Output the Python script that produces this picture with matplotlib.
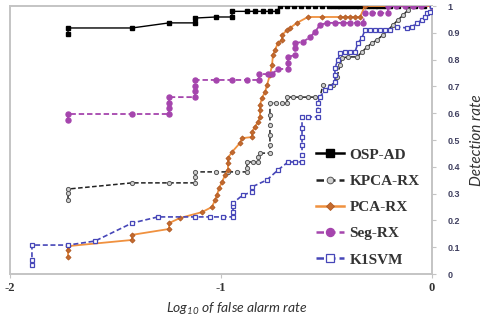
import matplotlib
matplotlib.use('Agg')
import matplotlib.pyplot as plt
from matplotlib.font_manager import FontProperties

plt.rcParams['mathtext.fontset'] = 'custom'
plt.rcParams['mathtext.rm'] = 'Lato:italic'
plt.rcParams['mathtext.it'] = 'Lato:italic'

# ---------------- data (log10 false alarm rate, detection rate) ----------------
osp_x = [-1.725, -1.725, -1.422, -1.246, -1.123, -1.123, -1.024, -0.948, -0.948,
         -0.877, -0.839, -0.801, -0.768, -0.735, -0.720, -0.687, -0.654, -0.621,
         -0.588, -0.555, -0.522, -0.489, -0.470, -0.452, -0.434, -0.416, -0.398,
         -0.380, -0.362, -0.344, -0.326, -0.308, -0.290, -0.272, -0.254, -0.236,
         -0.218, -0.200, -0.160, -0.120, -0.080, -0.040, 0.0]
osp_y = [0.896, 0.918, 0.918, 0.937, 0.937, 0.955, 0.959, 0.959, 0.980,
         0.980, 0.980, 0.980, 0.980, 0.980, 1.0, 1.0, 1.0, 1.0,
         1.0, 1.0, 1.0, 1.0, 1.0, 1.0, 1.0, 1.0, 1.0,
         1.0, 1.0, 1.0, 1.0, 1.0, 1.0, 1.0, 1.0, 1.0,
         1.0, 1.0, 1.0, 1.0, 1.0, 1.0, 1.0]

kpca_x = [-1.725, -1.725, -1.725, -1.422, -1.246, -1.123, -1.123, -1.123, -1.024,
          -0.967, -0.924, -0.877, -0.877, -0.877, -0.848, -0.825, -0.825, -0.815,
          -0.768, -0.768, -0.768, -0.768, -0.768, -0.768, -0.739, -0.711, -0.687,
          -0.687, -0.659, -0.626, -0.588, -0.555, -0.531, -0.517, -0.469, -0.450,
          -0.436, -0.427, -0.398, -0.355, -0.332, -0.308, -0.284, -0.261, -0.232,
          -0.209, -0.185, -0.161, -0.137, -0.114, -0.095, 0.0]
kpca_y = [0.276, 0.302, 0.317, 0.340, 0.340, 0.340, 0.362, 0.381, 0.381,
          0.381, 0.381, 0.381, 0.396, 0.418, 0.418, 0.418, 0.437, 0.451,
          0.451, 0.481, 0.519, 0.556, 0.593, 0.638, 0.638, 0.638, 0.638,
          0.660, 0.660, 0.660, 0.660, 0.660, 0.660, 0.705, 0.705, 0.735,
          0.780, 0.806, 0.810, 0.810, 0.828, 0.847, 0.862, 0.873, 0.892,
          0.910, 0.929, 0.948, 0.966, 0.985, 1.0, 1.0]

pca_x = [-1.725, -1.725, -1.725, -1.422, -1.422, -1.246, -1.246, -1.194, -1.090,
         -1.043, -1.028, -1.019, -1.009, -0.995, -0.981, -0.967, -0.967, -0.967,
         -0.948, -0.910, -0.900, -0.853, -0.853, -0.839, -0.825, -0.815, -0.815,
         -0.815, -0.806, -0.791, -0.782, -0.768, -0.758, -0.754, -0.744, -0.730,
         -0.711, -0.711, -0.687, -0.673, -0.640, -0.588, -0.521, -0.436, -0.412,
         -0.389, -0.365, -0.341, -0.318, 0.0]
pca_y = [0.063, 0.090, 0.104, 0.127, 0.146, 0.168, 0.190, 0.209, 0.231,
         0.250, 0.276, 0.295, 0.321, 0.343, 0.369, 0.388, 0.414, 0.433,
         0.455, 0.489, 0.507, 0.511, 0.530, 0.549, 0.567, 0.586, 0.612,
         0.631, 0.657, 0.679, 0.705, 0.743, 0.780, 0.817, 0.836, 0.862,
         0.873, 0.892, 0.910, 0.918, 0.937, 0.959, 0.959, 0.959, 0.959,
         0.959, 0.959, 0.959, 1.0, 1.0]

seg_x = [-1.725, -1.725, -1.422, -1.246, -1.246, -1.246, -1.246, -1.123, -1.123,
         -1.123, -1.123, -1.024, -0.948, -0.877, -0.820, -0.820, -0.777, -0.758,
         -0.730, -0.682, -0.682, -0.682, -0.649, -0.649, -0.649, -0.611, -0.578,
         -0.555, -0.531, -0.498, -0.460, -0.422, -0.389, -0.355, -0.327, -0.318,
         -0.284, -0.246, -0.209, -0.209, -0.170, -0.130, -0.090, -0.050, 0.0]
seg_y = [0.575, 0.597, 0.597, 0.597, 0.619, 0.638, 0.660, 0.660, 0.683,
         0.701, 0.724, 0.724, 0.724, 0.724, 0.724, 0.746, 0.746, 0.746,
         0.765, 0.765, 0.787, 0.810, 0.817, 0.843, 0.862, 0.866, 0.884,
         0.903, 0.929, 0.937, 0.937, 0.937, 0.937, 0.937, 0.937, 0.974,
         0.974, 0.974, 0.974, 1.0, 1.0, 1.0, 1.0, 1.0, 1.0]

svm_x = [-1.896, -1.896, -1.896, -1.725, -1.597, -1.422, -1.299, -1.123, -1.052,
         -0.991, -0.943, -0.943, -0.943, -0.943, -0.896, -0.853, -0.853, -0.782,
         -0.730, -0.682, -0.649, -0.616, -0.616, -0.616, -0.616, -0.616, -0.616,
         -0.588, -0.540, -0.540, -0.540, -0.531, -0.507, -0.483, -0.460, -0.460,
         -0.460, -0.446, -0.436, -0.412, -0.389, -0.365, -0.351, -0.332, -0.318,
         -0.294, -0.270, -0.246, -0.223, -0.199, -0.166, -0.118, -0.095, -0.071,
         -0.047, -0.033, -0.024, -0.009, 0.0]
svm_y = [0.034, 0.052, 0.108, 0.108, 0.123, 0.190, 0.213, 0.213, 0.213,
         0.213, 0.213, 0.231, 0.254, 0.265, 0.295, 0.306, 0.325, 0.351,
         0.388, 0.418, 0.418, 0.418, 0.444, 0.481, 0.511, 0.545, 0.586,
         0.586, 0.586, 0.612, 0.638, 0.660, 0.687, 0.698, 0.716, 0.743,
         0.769, 0.799, 0.825, 0.828, 0.828, 0.828, 0.862, 0.881, 0.910,
         0.910, 0.910, 0.910, 0.910, 0.910, 0.922, 0.918, 0.922, 0.937,
         0.948, 0.959, 0.974, 0.978, 1.0]

x_ticks = [-2, -1, 0]
x_tick_labels = ['-2', '-1', '0']
y_ticks = [0, 0.1, 0.2, 0.3, 0.4, 0.5, 0.6, 0.7, 0.8, 0.9, 1]
y_tick_labels = ['0', '0.1', '0.2', '0.3', '0.4', '0.5', '0.6', '0.7', '0.8', '0.9', '1']

# ---------------- figure ----------------
fig = plt.figure(figsize=(4.86, 3.23), dpi=100)
ax = fig.add_axes([10 / 486, 49 / 323, 422 / 486, 268 / 323])

ax.plot(osp_x, osp_y, color='black', lw=1.0, marker='s', ms=3.2,
        mfc='black', mec='black', label='OSP-AD', zorder=3)
ax.plot(kpca_x, kpca_y, color='#222222', lw=1.1, ls=(0, (3, 1.6)), marker='o', ms=3.0,
        mfc='#d0d0d0', mec='#555555', mew=0.7, label='KPCA-RX', zorder=4)
ax.plot(pca_x, pca_y, color='#f0913f', lw=1.3, marker='D', ms=2.6,
        mfc='#c46a2e', mec='#b05a24', mew=0.6, label='PCA-RX', zorder=5)
ax.plot(seg_x, seg_y, color='#a545ad', lw=1.3, ls=(0, (3, 1.6)), marker='o', ms=3.6,
        mfc='#a545ad', mec='#a545ad', label='Seg-RX', zorder=6)
ax.plot(svm_x, svm_y, color='#4646b8', lw=1.2, ls=(0, (3, 1.6)), marker='s', ms=3.2,
        mfc='white', mec='#4646b8', mew=0.9, label='K1SVM', zorder=7)

ax.set_xlim(-2, 0)
ax.set_ylim(0, 1)

for s in ax.spines.values():
    s.set_color('#c4c4c4')
    s.set_linewidth(1.4)

ax.set_xticks(x_ticks)
ax.set_xticklabels(x_tick_labels, fontfamily='Liberation Serif', fontweight='bold',
                   fontsize=9, color='#333333')
ax.tick_params(axis='x', direction='out', length=3, width=0.8, color='#c4c4c4', pad=3)

ax.yaxis.tick_right()
ax.set_yticks(y_ticks)
ax.set_yticklabels(y_tick_labels, fontfamily='Liberation Sans', fontweight='bold',
                   fontsize=6.5, color='#404060')
ax.tick_params(axis='y', direction='out', length=3, width=0.8, color='#c4c4c4', pad=8)

ax.yaxis.set_label_position('right')
ax.set_ylabel('Detection rate', fontfamily='Lato', fontstyle='italic', fontsize=11,
              color='#333333')
ax.yaxis.set_label_coords((477 - 10) / 422, (274 - 140) / 268)
ax.yaxis.label.set_verticalalignment('center')
ax.yaxis.label.set_horizontalalignment('center')

ax.set_xlabel(r'Log$_{10}$ of false alarm rate', fontfamily='Lato', fontstyle='italic',
              fontsize=10, color='#333333')
ax.xaxis.set_label_coords((237 - 10) / 422, (274 - 309) / 268)
ax.xaxis.label.set_verticalalignment('center')

leg = ax.legend(loc='upper left', bbox_to_anchor=((316 - 10) / 422, (274 - 148) / 268),
                frameon=False, borderpad=0, borderaxespad=0,
                prop=FontProperties(family='Liberation Serif', weight='bold', size=11),
                handlelength=1.8, handletextpad=0.4, labelspacing=0.82, markerscale=1.6)
for t in leg.get_texts():
    t.set_color('#333333')
for h in leg.get_lines():
    h.set_linewidth(1.8)

fig.savefig('out.png', dpi=100)
